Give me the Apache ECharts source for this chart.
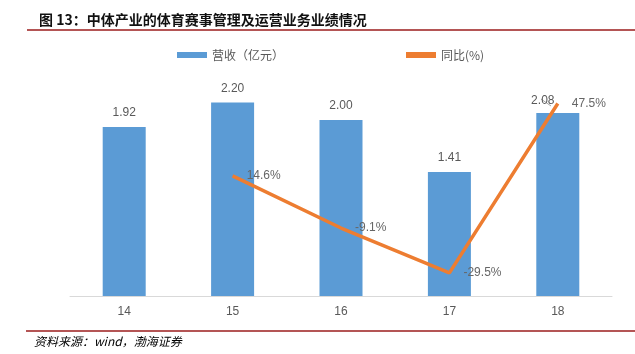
<!DOCTYPE html>
<html>
<head>
<meta charset="utf-8">
<script src="https://cdn.jsdelivr.net/npm/echarts@6/dist/echarts.min.js"></script>
<style>
  html, body { margin: 0; padding: 0; background: #fff; }
  #chart { width: 635px; height: 354px; }
</style>
</head>
<body>
<div id="chart"></div>
<script>
var years = ["14", "15", "16", "17", "18"];
var revenue = [1.92, 2.20, 2.00, 1.41, 2.08];
var growth = [null, 14.6, -9.1, -29.5, 47.5];

// the last bar label sits a bit left in the original (moved off the line)
var revenueData = revenue.map(function (v, i) {
  if (i === revenue.length - 1) {
    return { value: v, label: { offset: [-15, 2] } };
  }
  return v;
});

var myChart = echarts.init(document.getElementById("chart"));
myChart.setOption({
  animation: false,
  title: {
    text: "图 13：中体产业的体育赛事管理及运营业务业绩情况",
    left: 34,
    top: 8,
    textStyle: {
      fontFamily: "Noto Sans CJK SC",
      fontSize: 14,
      fontWeight: "bold",
      color: "#111"
    }
  },
  graphic: [
    {
      type: "line",
      shape: { x1: 27, y1: 30, x2: 635, y2: 30 },
      style: { stroke: "#9b1c1c", lineWidth: 1.5 }
    },
    {
      type: "line",
      shape: { x1: 26, y1: 331, x2: 635, y2: 331 },
      style: { stroke: "#9b1c1c", lineWidth: 1.5 }
    },
    {
      type: "line",
      shape: { x1: 541, y1: 99, x2: 551, y2: 106 },
      style: { stroke: "#a6a6a6", lineWidth: 1 }
    },
    {
      type: "text",
      left: 34,
      top: 335,
      style: {
        text: "资料来源：wind，渤海证券",
        fontFamily: "Noto Sans CJK SC",
        fontStyle: "italic",
        fontSize: 12,
        fill: "#000"
      }
    }
  ],
  legend: {
    top: 44,
    left: 172,
    itemGap: 122,
    itemWidth: 30,
    itemHeight: 6,
    textStyle: { color: "#595959", fontSize: 12, fontFamily: "Noto Sans CJK SC" },
    data: [
      { name: "营收（亿元）", icon: "rect" },
      { name: "同比(%)", icon: "rect" }
    ]
  },
  grid: {
    left: 70,
    right: 23,
    top: 76,
    bottom: 58
  },
  xAxis: {
    type: "category",
    data: years,
    axisLine: { lineStyle: { color: "#d9d9d9" } },
    axisTick: { show: false },
    axisLabel: { color: "#595959", fontSize: 12, margin: 10 }
  },
  yAxis: [
    {
      type: "value",
      min: 0,
      max: 2.5,
      show: false,
      splitLine: { show: false }
    },
    {
      type: "value",
      min: -40,
      max: 60,
      show: false,
      splitLine: { show: false }
    }
  ],
  series: [
    {
      name: "营收（亿元）",
      type: "bar",
      data: revenueData,
      barWidth: 43,
      itemStyle: { color: "#5b9bd5" },
      label: {
        show: true,
        position: "top",
        distance: 8,
        color: "#595959",
        fontSize: 12,
        formatter: function (p) {
          return p.value.toFixed(2);
        }
      }
    },
    {
      name: "同比(%)",
      type: "line",
      yAxisIndex: 1,
      data: growth,
      symbol: "circle",
      symbolSize: 0.1,
      lineStyle: { color: "#ed7d31", width: 3.5 },
      itemStyle: { color: "#ed7d31" },
      label: {
        show: true,
        position: "right",
        distance: 14,
        color: "#666",
        fontSize: 12,
        formatter: function (p) {
          return p.value.toFixed(1) + "%";
        }
      }
    }
  ]
});
</script>
</body>
</html>
